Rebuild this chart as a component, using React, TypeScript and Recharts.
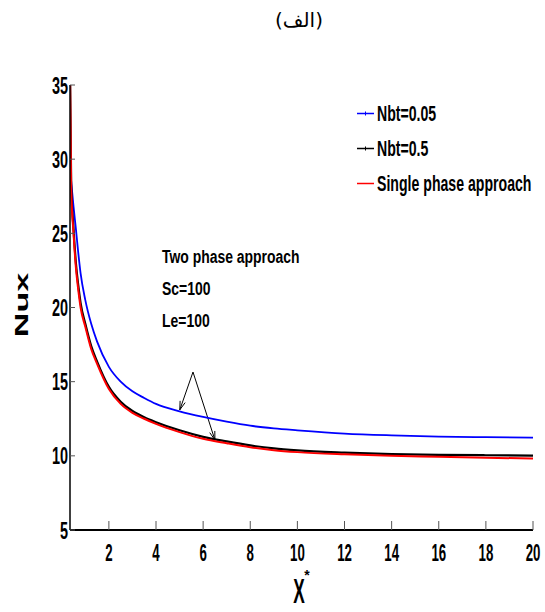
import React from "react";
import { LineChart, Line, XAxis, YAxis, ReferenceLine, Legend } from "recharts";

// x* positions and Nux values
const X_STAR = [0.35, 0.4, 0.5, 0.6, 0.7, 0.8, 1.0, 1.25, 1.5, 2, 2.5, 3, 3.5, 4, 5, 6, 7, 8, 9, 10, 12, 14, 16, 18, 20];
const NUX_NBT_005 = [29.3, 28.5, 26.8, 25.3, 23.7, 22.3, 20.5, 18.9, 17.7, 16.0, 15.0, 14.35, 13.9, 13.5, 13.0, 12.62, 12.3, 12.03, 11.85, 11.72, 11.5, 11.38, 11.3, 11.26, 11.23];
const NUX_NBT_05 = [36, 28.3, 25.3, 23.0, 21.5, 20.3, 18.9, 17.4, 16.35, 14.65, 13.65, 13.02, 12.6, 12.27, 11.72, 11.28, 10.97, 10.7, 10.5, 10.37, 10.22, 10.12, 10.07, 10.04, 10.02];
const NUX_SINGLE = [36, 28.0, 25.0, 22.7, 21.2, 20.0, 18.7, 17.2, 16.2, 14.5, 13.5, 12.9, 12.5, 12.15, 11.6, 11.15, 10.85, 10.58, 10.38, 10.25, 10.1, 10.0, 9.93, 9.87, 9.82];

const X_TICKS = [2, 4, 6, 8, 10, 12, 14, 16, 18, 20];
const Y_TICKS = [5, 10, 15, 20, 25, 30, 35];

const TITLE = "(الف)";
const NOTE_LINES = ["Two phase approach", "Sc=100", "Le=100"];

// arrow apex and the two points it points at (data coords)
const ARROW_APEX = { x: 5.57, y: 15.65 };
const ARROW_TARGETS = [
  { x: 5.01, y: 13.1 },
  { x: 6.5, y: 11.07 },
];

const data = X_STAR.map((x, i) => ({
  x,
  nbt005: NUX_NBT_005[i],
  nbt05: NUX_NBT_05[i],
  single: NUX_SINGLE[i],
}));

const FONT = "'Liberation Sans', Arial, sans-serif";
const LEGEND_MARKER: Record<string, boolean> = { nbt005: true, nbt05: true, single: false };

function XTick({ x, y, payload }: any) {
  return (
    <g>
      <line x1={x} x2={x} y1={y} y2={y - 9} stroke="#555" strokeWidth={1} />
      <text
        transform={`translate(${x},${y + 31}) scale(0.78,1.4)`}
        textAnchor="middle"
        fontFamily={FONT}
        fontWeight="bold"
        fontSize={17}
        fill="#000"
      >
        {payload.value}
      </text>
    </g>
  );
}

function YTick({ x, y, payload }: any) {
  return (
    <g>
      <line x1={x} x2={x + 5} y1={y} y2={y} stroke="#555" strokeWidth={1} />
      <text
        transform={`translate(${x - 2},${y + 8.5}) scale(0.85,1.4)`}
        textAnchor="end"
        fontFamily={FONT}
        fontWeight="bold"
        fontSize={17}
        fill="#000"
      >
        {payload.value}
      </text>
    </g>
  );
}

function TopTick({ x, y }: any) {
  return <line x1={x} x2={x} y1={y} y2={y + 9} stroke="#555" strokeWidth={1} />;
}

function RightTick({ x, y }: any) {
  return <line x1={x} x2={x - 4} y1={y} y2={y} stroke="#555" strokeWidth={1} />;
}

function Arrow(props: any) {
  const { x1, y1, x2, y2 } = props;
  const ang = Math.atan2(y2 - y1, x2 - x1);
  const len = 9;
  const spread = 0.3;
  const ax = x2 - len * Math.cos(ang - spread);
  const ay = y2 - len * Math.sin(ang - spread);
  const bx = x2 - len * Math.cos(ang + spread);
  const by = y2 - len * Math.sin(ang + spread);
  return (
    <g>
      <line x1={x1} y1={y1} x2={x2} y2={y2} stroke="#000" strokeWidth={1} />
      <polyline points={`${ax},${ay} ${x2},${y2} ${bx},${by}`} fill="none" stroke="#000" strokeWidth={1} />
    </g>
  );
}

function LegendBox({ payload }: any) {
  return (
    <div>
      {(payload || []).map((p: any) => (
        <div key={p.dataKey} style={{ display: "flex", alignItems: "center", height: 35 }}>
          <svg width={22} height={35} style={{ flex: "none" }}>
            <line x1={2} x2={19} y1={17.5} y2={17.5} stroke={p.color} strokeWidth={1.5} />
            {LEGEND_MARKER[p.dataKey] && (
              <line x1={10.5} x2={10.5} y1={15.5} y2={19.5} stroke={p.color} strokeWidth={1} />
            )}
          </svg>
          <span
            style={{
              display: "inline-block",
              fontFamily: FONT,
              fontWeight: "bold",
              fontSize: 17,
              color: "#000",
              whiteSpace: "nowrap",
              transform: "scale(0.83,1.3)",
              transformOrigin: "left center",
              lineHeight: "17px",
            }}
          >
            {p.value}
          </span>
        </div>
      ))}
    </div>
  );
}

export default function App() {
  return (
    <div style={{ position: "absolute", left: 0, top: 0, width: 545, height: 612, background: "#fff" }}>
      <LineChart
        width={545}
        height={612}
        data={data}
        margin={{ top: 85, right: 12, bottom: 32, left: 10 }}
      >
        <XAxis
          dataKey="x"
          type="number"
          domain={[0.35, 20]}
          ticks={X_TICKS}
          allowDataOverflow
          height={50}
          tickSize={0}
          tickMargin={0}
          tick={<XTick />}
          axisLine={{ stroke: "#000", strokeWidth: 2 }}
          tickLine={false}
        />
        <XAxis
          xAxisId="top"
          orientation="top"
          dataKey="x"
          type="number"
          domain={[0.35, 20]}
          ticks={X_TICKS}
          allowDataOverflow
          height={0}
          tickSize={0}
          tickMargin={0}
          tick={<TopTick />}
          axisLine={{ stroke: "#000", strokeWidth: 1.5 }}
          tickLine={false}
        />
        <YAxis
          type="number"
          domain={[5, 35]}
          ticks={Y_TICKS}
          allowDataOverflow
          width={60}
          tickSize={0}
          tickMargin={0}
          tick={<YTick />}
          axisLine={{ stroke: "#000", strokeWidth: 1.5 }}
          tickLine={false}
        />
        <YAxis
          yAxisId="right"
          orientation="right"
          type="number"
          domain={[5, 35]}
          ticks={Y_TICKS}
          allowDataOverflow
          width={0}
          tickSize={0}
          tickMargin={0}
          tick={<RightTick />}
          axisLine={{ stroke: "#333", strokeWidth: 1.5 }}
          tickLine={false}
        />
        <Legend
          layout="vertical"
          align="center"
          verticalAlign="middle"
          content={<LegendBox />}
          wrapperStyle={{ left: 355, top: 96, width: 185 }}
        />
        {ARROW_TARGETS.map((t, i) => (
          <ReferenceLine key={i} segment={[ARROW_APEX, t]} shape={Arrow} ifOverflow="visible" />
        ))}
        <Line
          name="Nbt=0.05"
          dataKey="nbt005"
          type="monotone"
          stroke="#0000ff"
          strokeWidth={1.8}
          dot={false}
          isAnimationActive={false}
        />
        <Line
          name="Nbt=0.5"
          dataKey="nbt05"
          type="monotone"
          stroke="#000000"
          strokeWidth={2.2}
          dot={false}
          isAnimationActive={false}
        />
        <Line
          name="Single phase approach"
          dataKey="single"
          type="monotone"
          stroke="#ff0000"
          strokeWidth={2}
          dot={false}
          isAnimationActive={false}
        />
      </LineChart>
      <svg
        width={545}
        height={612}
        style={{ position: "absolute", left: 0, top: 0, pointerEvents: "none" }}
      >
        <text x={299} y={27} textAnchor="middle" fontFamily="'DejaVu Sans', sans-serif" fontSize={20} fill="#000">
          {TITLE}
        </text>
        {NOTE_LINES.map((s, i) => (
          <text
            key={s}
            transform={`translate(162,${263 + i * 32}) scale(0.82,1.1)`}
            fontFamily={FONT}
            fontWeight="bold"
            fontSize={17}
            fill="#000"
          >
            {s}
          </text>
        ))}
        <text
          transform="translate(28,305) rotate(-90) scale(1.9,1)"
          textAnchor="middle"
          fontFamily={FONT}
          fontWeight="bold"
          fontSize={18}
          fill="#000"
        >
          Nux
        </text>
        <text
          transform="translate(299,603) scale(0.75,1.5)"
          textAnchor="middle"
          fontFamily={FONT}
          fontWeight="bold"
          fontSize={23}
          fill="#000"
        >
          X
        </text>
        <text x={307} y={580} textAnchor="middle" fontFamily={FONT} fontWeight="bold" fontSize={14} fill="#000">
          *
        </text>
      </svg>
    </div>
  );
}
